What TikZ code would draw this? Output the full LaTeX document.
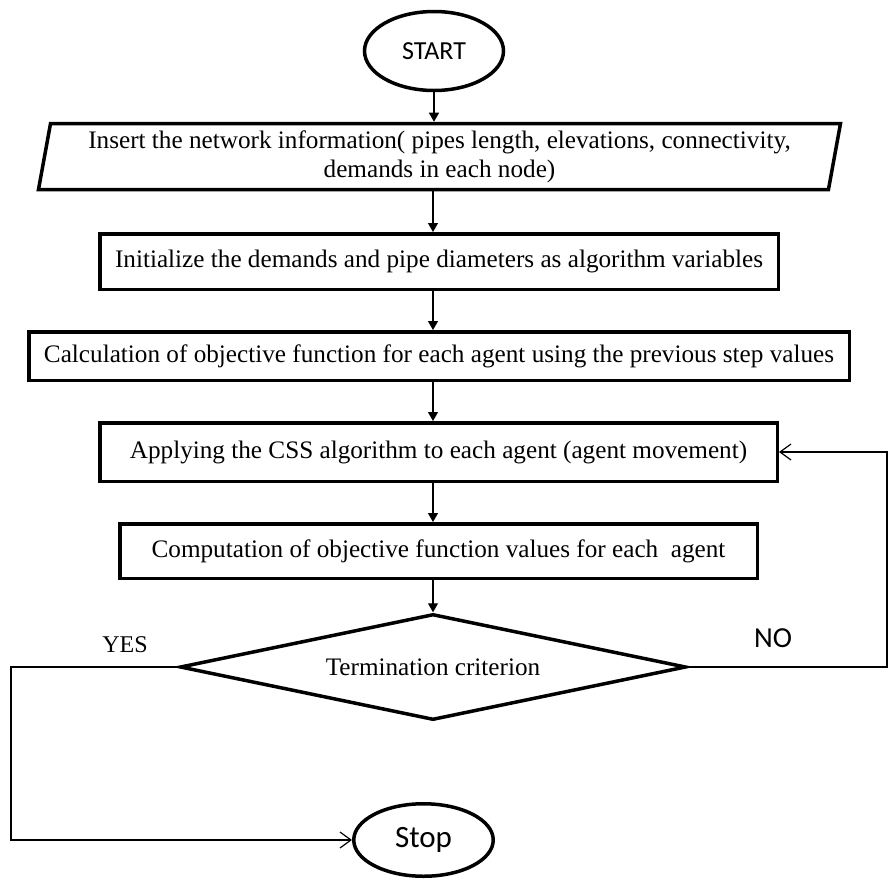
\documentclass[tikz,border=0pt]{standalone}
\usepackage{fontspec}
\setmainfont{Liberation Serif}
\newfontfamily\calibri{Carlito}
\usetikzlibrary{shapes.geometric,arrows.meta}
\begin{document}
\begin{tikzpicture}[x=1pt,y=-1pt,
  box/.style={draw,line width=3.5pt,rectangle,inner sep=0pt,font=\fontsize{25.2}{29}\selectfont},
  oval/.style={draw,line width=3.5pt,ellipse,inner sep=0pt},
  flow/.style={line width=1.2pt,-{Triangle[length=9pt,width=10pt]}},
  back/.style={line width=1.2pt,-{Straight Barb[length=11pt,width=16pt]}},
  tag/.style={inner sep=0pt,font=\fontsize{24}{28}\selectfont}]
\useasboundingbox (0,0) rectangle (892,879);
\node[oval,minimum width=139pt,minimum height=79pt,font=\calibri\fontsize{26}{30}\selectfont] (v0) at (434,51) {START};
\node[box,trapezium,trapezium left angle=77,trapezium right angle=103,trapezium stretches body,
  minimum width=802pt,minimum height=66pt,align=center] (v1) at (439.5,156.5)
  {Insert the network information( pipes length, elevations, connectivity,\\demands in each node)};
\node[box,minimum width=678.5pt,minimum height=55.5pt] (v2) at (439,261.5) {Initialize the demands and pipe diameters as algorithm variables};
\node[box,minimum width=820.5pt,minimum height=48.5pt] (v3) at (439,356) {Calculation of objective function for each agent using the previous step values};
\node[box,minimum width=677.5pt,minimum height=58.5pt] (v4) at (438.5,452) {Applying the CSS algorithm to each agent (agent movement)};
\node[box,minimum width=637.5pt,minimum height=54.5pt] (v5) at (438.5,551) {Computation of objective function values for each\ \ agent};
\node[box,diamond,aspect=4.6,minimum width=506pt,minimum height=106pt] (v6) at (433,667) {Termination criterion};
\node[oval,minimum width=139.5pt,minimum height=72.5pt,font=\calibri\fontsize{31}{34}\selectfont] (v7) at (423.5,840) {Stop};
\node[tag] (v8) at (125,645) {YES};
\node[tag,font=\calibri\fontsize{29}{32}\selectfont] (v9) at (773,638) {NO};
\coordinate (v10) at (887,0);
\coordinate (v11) at (11,0);
\draw [flow] (v0.south) -- (v1.north -| v0.south);
\draw [flow] (v1.south -| v6.north) -- (v2.north -| v6.north);
\draw [flow] (v2.south -| v6.north) -- (v3.north -| v6.north);
\draw [flow] (v3.south -| v6.north) -- (v4.north -| v6.north);
\draw [flow] (v4.south -| v6.north) -- (v5.north -| v6.north);
\draw [flow] (v5.south -| v6.north) -- (v6.north);
\draw [back] (v6.east) -- (v6.east -| v10) |- (v4.east);
\draw [back] (v6.west) -- (v6.west -| v11) |- (v7.west);
\end{tikzpicture}
\end{document}
